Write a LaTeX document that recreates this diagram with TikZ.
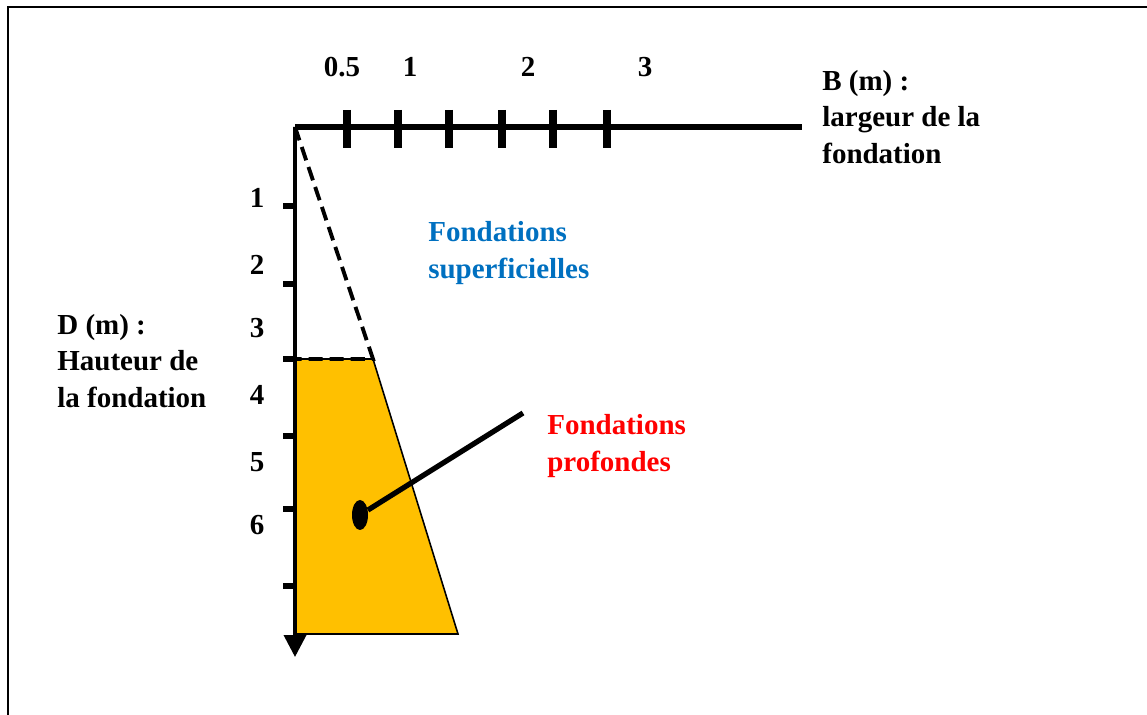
\documentclass[tikz,border=0pt]{standalone}
\usepackage{fontspec}
\setmainfont{Liberation Serif}
\usepackage{xcolor}
\usetikzlibrary{arrows.meta,shapes.geometric}
\definecolor{Pile}{HTML}{FFC000}
\definecolor{Sky}{HTML}{0070C0}
\definecolor{Alarm}{HTML}{FF0000}
\tikzset{
  lbl/.style={
    font=\bfseries\fontsize{16.5}{21}\selectfont,
    align=left, inner sep=0pt, anchor=west
  },
  num/.style={font=\bfseries\fontsize{16.5}{21}\selectfont,inner sep=0pt},
  haxis/.style={line width=3.8pt},
  vaxis/.style={line width=2.1pt,-{Triangle[width=12.5pt,length=12.5pt]}},
  htick/.style={line width=5pt},
  vtick/.style={line width=3.8pt},
  dashline/.style={line width=2.2pt,dash pattern=on 8pt off 4pt},
  lead/.style={line width=3pt},
  dot/.style={ellipse,fill=black,inner sep=0pt,minimum width=0.32cm,minimum height=0.6cm}
}

\begin{document}
\begin{tikzpicture}[x=0.02cm,y=-0.02cm]
  \useasboundingbox (0,0) rectangle (1147,715);
  % cadre
  \draw[line width=1.2pt] (8,715) -- (8,7) -- (1147,7);
  \coordinate (org) at (295,127);
  \coordinate (bend) at (802,127);
  \coordinate (dend) at (295,657);
  % fondations profondes
  \fill[Pile,draw=black,line width=0.9pt] (295,359) -- (373,359) -- (458,634) -- (295,634) -- cycle;
  % fondations superficielles
  \draw[dashline] (org) -- (373,359) -- (295,359) -- cycle;
  % axes
  \draw[haxis] (org) -- (bend);
  \draw[vaxis] (org) -- (dend);
  \foreach \x in {347,398,449,502,553,607} \draw[htick] (\x,110) -- (\x,148);
  \foreach \y in {206,284,359,436,509,586} \draw[vtick] (283,\y) -- (295,\y);
  \node[num] (b05) at (342,67) {0.5};
  \node[num] (b1) at (410,67) {1};
  \node[num] (b2) at (528,67) {2};
  \node[num] (b3) at (645,67) {3};
  \foreach \d/\y in {1/198,2/265,3/328,4/395,5/462,6/525}
    \node[num] (d\d) at (257,\y) {\d};
  % textes
  \node[lbl] (blab) at (822,117) {B (m) :\\largeur de la\\fondation};
  \node[lbl] (dlab) at (57,361) {D (m) :\\Hauteur de\\la fondation};
  \node[lbl,text=Sky] (sup) at (428,253) {Fondations\\superficielles};
  \node[lbl,text=Alarm] (prof) at (547,446) {Fondations\\profondes};
  \node[dot] (pt) at (360,515) {};
  \coordinate (tip) at (523,413);
  \draw[lead] (pt) -- (tip);
\end{tikzpicture}
\end{document}
